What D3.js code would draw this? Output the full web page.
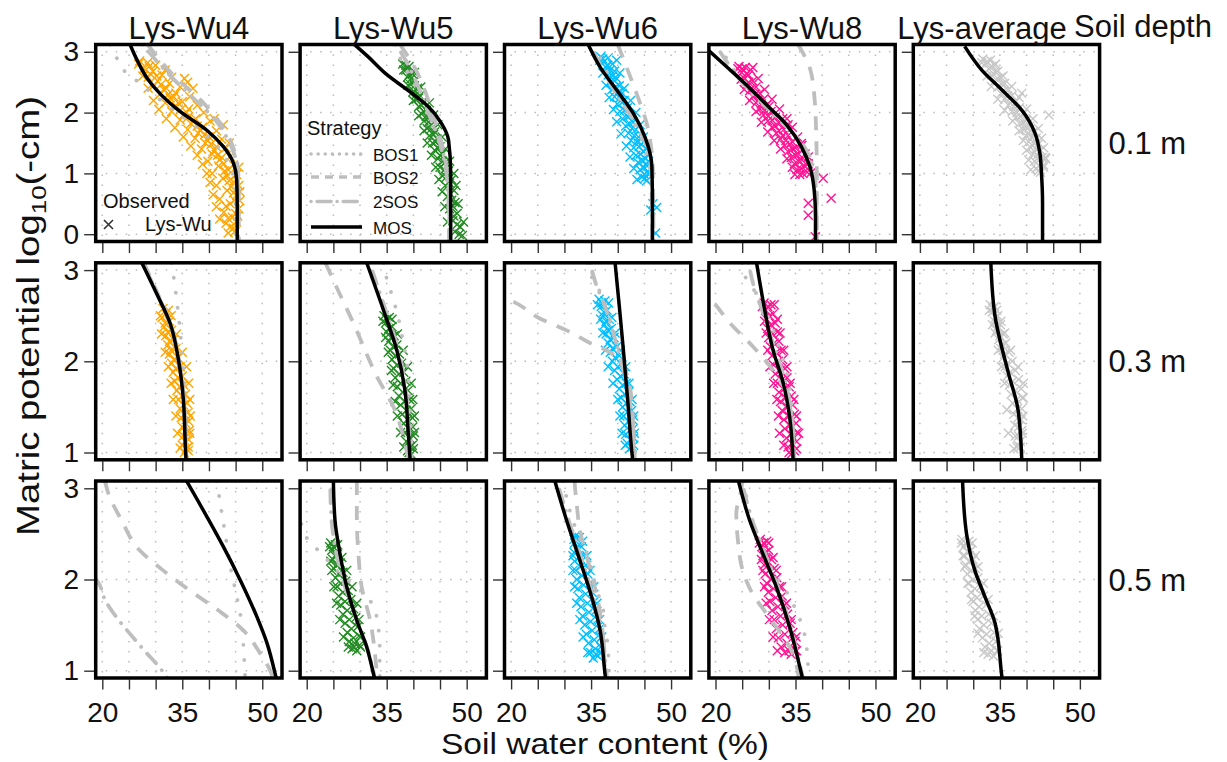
<!DOCTYPE html>
<html>
<head>
<meta charset="utf-8" />
<title>Soil water retention by lysimeter</title>
<script src="https://cdn.jsdelivr.net/npm/d3@7"></script>
<style>
    body { margin: 0; background: #fff; }
    text { font-family: "Liberation Sans", Arial, Helvetica, sans-serif; fill: #111; }
</style>
</head>
<body>
<svg id="CHART" width="1227" height="762"></svg>
<script>
/* ---------------- data ---------------- */
var lysimeters = ["Lys-Wu4", "Lys-Wu5", "Lys-Wu6", "Lys-Wu8", "Lys-average"];
var depths = ["0.1 m", "0.3 m", "0.5 m"];
var strategies = ["BOS1", "BOS2", "2SOS", "MOS"];
var thetaTicks = [20, 25, 30, 35, 40, 45, 50];
var thetaLabels = [20, 35, 50];
var potentialTicks = [[0, 1, 2, 3], [1, 2, 3], [1, 2, 3]];

// observed points [theta %, log10(-h cm)] per depth, one list per lysimeter
var obsDepth10 = [
    [[27.0,2.85],[28.5,2.82],[30.0,2.78],[27.8,2.72],[29.5,2.68],[31.2,2.62],[28.6,2.58],[30.4,2.52],[32.6,2.48],[29.6,2.44],[31.5,2.38],[33.8,2.32],[30.8,2.30],[32.7,2.24],[35.0,2.18],[31.8,2.16],[33.9,2.10],[36.2,2.06],[33.0,2.02],[35.2,1.96],[37.5,1.90],[34.6,1.88],[36.6,1.82],[38.8,1.76],[36.0,1.72],[38.0,1.66],[40.0,1.60],[37.4,1.58],[39.3,1.50],[41.4,1.44],[38.6,1.40],[40.6,1.32],[42.4,1.26],[39.8,1.20],[41.8,1.12],[43.6,1.06],[40.6,1.00],[42.6,0.92],[44.6,0.86],[41.4,0.80],[43.4,0.72],[45.2,0.64],[42.0,0.58],[44.0,0.50],[45.6,0.42],[42.8,0.36],[44.4,0.28],[43.2,0.18],[44.6,0.10],[43.6,0.02],[36.0,2.50],[42.7,1.80],[45.8,0.70],
     [28.8,2.76],[29.0,2.64],[30.2,2.60],[31.0,2.46],[32.0,2.40],[32.4,2.30],[33.4,2.26],[34.2,2.16],[34.6,2.04],[35.8,2.00],[36.0,1.92],[37.2,1.86],[37.8,1.78],[38.4,1.70],[39.2,1.64],[39.8,1.54],[40.4,1.48],[41.0,1.38],[41.6,1.30],[42.0,1.22],[42.8,1.16],[43.0,1.04],[43.4,0.96],[43.8,0.88],[44.2,0.78],[44.6,0.68],[44.8,0.56],[43.2,0.46],[45.0,0.34],[43.6,0.26],[45.2,0.20],[44.0,0.12],[44.8,0.04],[35.4,2.56],[37.0,2.40],[41.0,1.90],[43.8,1.50],[45.6,1.10],
     [26.8,2.80],[27.6,2.60],[28.6,2.40],[29.6,2.20],[30.6,2.05],[32.0,1.90],[33.6,1.75],[35.2,1.60],[36.6,1.45],[37.8,1.30],[38.8,1.15],[39.6,1.00],[40.2,0.85],[40.8,0.65],[41.4,0.45],[42.0,0.25],
     [31.8,2.70],[33.0,2.58],[34.6,2.42],[36.4,2.26],[37.8,2.12],[39.0,2.00],[40.2,1.86],[41.4,1.70],[42.4,1.56],[43.2,1.42],[44.0,1.28],[44.6,1.14],[45.2,0.98],[45.6,0.80],[45.8,0.55],[45.4,0.30]],
    [[38.0,2.80],[39.2,2.76],[38.6,2.70],[39.8,2.64],[38.9,2.58],[40.2,2.52],[39.5,2.46],[40.8,2.40],[39.9,2.34],[41.2,2.28],[40.5,2.22],[41.8,2.16],[41.0,2.10],[42.4,2.04],[41.5,1.98],[42.9,1.92],[42.0,1.86],[43.4,1.80],[42.6,1.74],[44.0,1.68],[43.0,1.62],[44.5,1.56],[43.6,1.50],[45.0,1.44],[44.0,1.38],[45.4,1.32],[44.6,1.24],[46.0,1.18],[45.0,1.10],[46.6,1.04],[45.4,0.96],[47.2,0.90],[46.0,0.80],[47.6,0.72],[46.4,0.62],[47.8,0.52],[46.8,0.42],[48.2,0.34],[47.4,0.22],[48.8,0.12],[47.8,0.04],[49.2,-0.02],
     [38.6,2.78],[39.2,2.62],[39.6,2.56],[40.2,2.44],[40.6,2.30],[41.0,2.24],[41.5,2.12],[42.0,2.02],[42.4,1.94],[42.8,1.84],[43.2,1.72],[43.8,1.64],[44.2,1.52],[44.6,1.42],[45.0,1.30],[45.5,1.20],[45.8,1.06],[46.2,0.94],[46.8,0.84],[47.0,0.66],[47.2,0.56],[47.4,0.46],[47.6,0.30],[48.2,0.16],[48.6,0.00],
     [38.2,2.70],[39.0,2.45],[40.0,2.20],[41.0,1.95],[42.0,1.70],[42.6,1.50],[43.4,1.30],[44.2,1.10],[44.8,0.90],[45.4,0.70],[45.9,0.45],[46.4,0.20],
     [40.2,2.66],[41.4,2.42],[43.0,2.16],[43.8,1.96],[44.6,1.80],[45.4,1.60],[46.0,1.40],[46.8,1.20],[47.6,1.00],[48.0,0.80],[48.4,0.50],[49.4,0.20]],
    [[36.8,2.92],[38.2,2.90],[37.4,2.84],[39.0,2.80],[37.8,2.74],[39.4,2.68],[38.2,2.62],[39.8,2.56],[38.6,2.50],[40.3,2.44],[38.9,2.38],[40.8,2.32],[39.4,2.26],[41.2,2.20],[39.9,2.14],[41.8,2.08],[40.4,2.02],[42.4,1.96],[40.9,1.90],[42.9,1.84],[41.5,1.78],[43.4,1.72],[42.0,1.66],[43.9,1.60],[42.5,1.54],[44.4,1.48],[43.0,1.42],[44.8,1.36],[43.4,1.30],[45.2,1.24],[43.8,1.18],[45.5,1.12],[44.2,1.06],[45.7,1.00],[44.5,0.94],[45.4,0.88],[46.6,0.50],[47.3,0.44],[46.2,0.40],[47.1,0.02],
     [37.2,2.88],[38.0,2.78],[38.6,2.70],[39.0,2.60],[39.4,2.52],[39.6,2.42],[40.1,2.34],[40.4,2.24],[40.8,2.16],[41.3,2.04],[41.8,1.94],[42.2,1.82],[42.7,1.74],[43.1,1.62],[43.6,1.52],[44.0,1.44],[44.2,1.32],[44.6,1.22],[44.9,1.10],[45.0,0.98],[45.1,0.92],
     [36.6,2.86],[37.2,2.65],[37.8,2.45],[38.4,2.25],[39.2,2.05],[39.8,1.85],[40.6,1.65],[41.6,1.45],[42.3,1.27],[43.0,1.08],[43.6,0.90],
     [39.8,2.86],[40.4,2.65],[41.2,2.40],[42.4,2.20],[43.4,2.00],[44.2,1.80],[44.8,1.60],[45.4,1.40],[45.8,1.20],[46.0,1.00]],
    [[24.4,2.76],[25.6,2.74],[26.6,2.70],[24.9,2.66],[26.2,2.62],[25.4,2.56],[27.0,2.52],[25.9,2.46],[27.6,2.42],[26.4,2.36],[28.3,2.32],[27.0,2.26],[29.0,2.22],[27.6,2.16],[29.6,2.12],[28.3,2.06],[30.4,2.02],[29.0,1.96],[31.2,1.92],[29.8,1.86],[32.0,1.82],[30.6,1.76],[32.8,1.72],[31.4,1.66],[33.6,1.62],[32.2,1.56],[34.4,1.52],[33.0,1.46],[35.0,1.42],[33.6,1.36],[35.6,1.32],[34.2,1.26],[36.2,1.22],[34.8,1.16],[36.7,1.12],[35.3,1.06],[37.2,1.02],[35.8,0.98],[33.6,1.80],[36.1,1.49],[37.4,1.27],[40.2,0.92],[41.7,0.59],[37.4,0.51],[37.4,0.31],[38.7,-0.04],
     [25.0,2.72],[25.8,2.64],[26.2,2.50],[26.8,2.40],[27.4,2.30],[28.0,2.20],[28.6,2.14],[29.2,2.04],[29.9,1.94],[30.6,1.88],[31.2,1.78],[31.9,1.70],[32.6,1.62],[33.2,1.54],[33.9,1.48],[34.4,1.40],[35.0,1.30],[35.6,1.20],[36.0,1.08],[36.4,1.00],[30.0,2.10],[32.6,1.90],
     [24.2,2.72],[24.8,2.55],[25.4,2.38],[26.4,2.20],[27.6,2.02],[28.6,1.84],[29.8,1.68],[31.0,1.54],[32.2,1.40],[33.4,1.24],[34.4,1.10],[34.9,0.98],
     [27.0,2.74],[28.0,2.56],[29.2,2.38],[30.6,2.22],[32.0,2.06],[33.4,1.90],[34.4,1.76],[35.4,1.60],[36.2,1.46],[36.8,1.32],[37.4,1.16],[38.0,1.02]],
    [[31.8,2.88],[33.2,2.86],[32.4,2.80],[34.0,2.78],[32.9,2.72],[34.6,2.68],[33.4,2.62],[35.2,2.58],[34.0,2.52],[35.9,2.48],[34.6,2.42],[36.6,2.38],[35.2,2.32],[37.3,2.28],[35.9,2.22],[38.0,2.18],[36.6,2.12],[38.7,2.08],[37.3,2.02],[39.4,1.98],[38.0,1.92],[40.0,1.88],[38.7,1.82],[40.6,1.78],[39.3,1.72],[41.2,1.68],[39.9,1.62],[41.8,1.58],[40.4,1.52],[42.2,1.48],[40.8,1.42],[42.6,1.38],[41.2,1.32],[42.9,1.26],[41.5,1.20],[43.2,1.14],[41.8,1.08],[42.6,1.02],[44.2,1.96],[39.1,2.32],[43.6,1.24],
     [32.6,2.84],[33.4,2.76],[34.2,2.66],[34.6,2.56],[35.4,2.46],[35.8,2.36],[36.4,2.28],[37.0,2.16],[37.6,2.10],[38.2,2.00],[38.8,1.94],[39.4,1.84],[39.9,1.76],[40.4,1.66],[40.9,1.60],[41.4,1.50],[41.8,1.40],[42.0,1.30],[42.3,1.22],[42.4,1.12],[42.2,1.04],
     [31.6,2.82],[32.6,2.60],[33.4,2.43],[34.6,2.22],[35.9,2.04],[37.4,1.86],[38.6,1.70],[39.4,1.54],[40.0,1.38],[40.4,1.22],[40.8,1.06],
     [34.2,2.80],[35.6,2.60],[37.2,2.43],[38.6,2.25],[40.0,2.06],[41.2,1.90],[42.2,1.74],[42.8,1.58],[43.2,1.42],[43.5,1.26],[43.2,1.10]]
];
var obsDepth30 = [
    [[31.4,2.58],[32.4,2.56],[31.2,2.48],[32.6,2.44],[31.6,2.38],[33.0,2.34],[31.9,2.28],[33.4,2.24],[32.3,2.18],[33.8,2.14],[32.6,2.08],[34.2,2.04],[33.0,1.98],[34.6,1.94],[33.3,1.88],[35.0,1.84],[33.6,1.78],[35.3,1.74],[34.0,1.68],[35.6,1.64],[34.3,1.58],[35.9,1.54],[34.6,1.48],[36.1,1.44],[34.8,1.38],[36.2,1.34],[35.0,1.28],[36.3,1.24],[35.2,1.18],[36.2,1.14],[35.0,1.08],[35.8,1.04],[35.4,1.00],
     [31.9,2.52],[31.8,2.42],[32.3,2.32],[32.6,2.22],[32.9,2.12],[33.4,2.02],[33.8,1.92],[34.2,1.82],[34.5,1.72],[34.9,1.62],[35.2,1.52],[35.4,1.42],[35.6,1.32],[35.7,1.22],[35.6,1.12],[36.1,1.06],
     [30.9,2.50],[31.1,2.30],[31.8,2.10],[32.4,1.94],[32.9,1.76],[33.3,1.58],[33.8,1.40],[34.1,1.21],[34.6,1.05],
     [32.9,2.50],[33.9,2.30],[35.0,2.10],[35.8,1.94],[36.2,1.76],[36.4,1.58],[36.5,1.40],[36.4,1.21],[36.1,1.02]],
    [[34.5,2.50],[35.5,2.48],[34.8,2.42],[36.0,2.38],[35.0,2.32],[36.4,2.28],[35.4,2.22],[36.9,2.18],[35.7,2.12],[37.4,2.08],[36.0,2.02],[37.8,1.98],[36.3,1.92],[38.2,1.88],[36.6,1.82],[38.6,1.78],[37.0,1.72],[39.0,1.68],[37.3,1.62],[39.3,1.58],[37.6,1.52],[39.6,1.48],[37.9,1.42],[39.8,1.38],[38.2,1.32],[39.9,1.28],[38.5,1.22],[40.0,1.18],[38.7,1.12],[39.8,1.08],[38.9,1.02],[39.6,0.98],
     [35.0,2.46],[35.4,2.36],[35.8,2.26],[36.2,2.16],[36.6,2.06],[36.9,1.96],[37.3,1.86],[37.6,1.76],[38.0,1.66],[38.4,1.56],[38.7,1.46],[38.9,1.36],[39.1,1.26],[39.3,1.16],[39.4,1.06],[39.2,1.00],
     [34.3,2.44],[34.8,2.26],[35.3,2.10],[35.9,1.90],[36.2,1.74],[36.6,1.56],[37.0,1.40],[37.6,1.22],[38.2,1.06],
     [36.0,2.46],[37.0,2.30],[38.1,2.12],[38.9,1.94],[39.6,1.76],[39.9,1.58],[40.2,1.40],[40.2,1.22],[40.0,1.04]],
    [[36.5,2.68],[37.6,2.66],[36.9,2.60],[38.0,2.56],[37.2,2.50],[38.4,2.46],[37.5,2.40],[38.8,2.36],[37.8,2.30],[39.3,2.26],[38.2,2.20],[39.8,2.16],[38.6,2.10],[40.3,2.06],[39.0,2.00],[40.8,1.96],[39.4,1.90],[41.2,1.86],[39.9,1.80],[41.6,1.76],[40.3,1.70],[42.0,1.66],[40.6,1.60],[42.3,1.56],[40.9,1.50],[42.6,1.46],[41.1,1.40],[42.8,1.36],[41.3,1.30],[42.9,1.26],[41.5,1.20],[43.0,1.16],[41.8,1.10],[42.7,1.06],
     [37.0,2.64],[37.4,2.54],[37.8,2.44],[38.2,2.34],[38.6,2.24],[39.0,2.14],[39.5,2.04],[40.0,1.94],[40.5,1.84],[40.9,1.74],[41.3,1.64],[41.6,1.54],[41.8,1.44],[42.0,1.34],[42.2,1.24],[42.3,1.14],[42.2,1.04],
     [36.2,2.62],[36.8,2.46],[37.2,2.31],[37.7,2.12],[38.2,1.94],[39.1,1.76],[40.0,1.58],[40.4,1.40],[40.8,1.21],[41.4,1.08],
     [38.3,2.64],[38.9,2.48],[39.5,2.31],[40.5,2.12],[41.5,1.94],[42.1,1.76],[42.7,1.58],[43.0,1.40],[43.1,1.21],[43.0,1.08]],
    [[29.1,2.64],[30.4,2.62],[29.4,2.56],[30.8,2.52],[29.6,2.46],[31.2,2.42],[29.8,2.36],[31.6,2.32],[30.0,2.26],[31.9,2.22],[30.3,2.16],[32.3,2.12],[30.6,2.06],[32.6,2.02],[30.9,1.96],[33.0,1.92],[31.2,1.86],[33.4,1.82],[31.6,1.76],[33.8,1.72],[31.9,1.66],[34.2,1.62],[32.2,1.56],[34.5,1.52],[32.5,1.46],[34.8,1.42],[32.8,1.36],[35.1,1.32],[33.0,1.26],[35.3,1.22],[33.3,1.16],[35.2,1.12],[33.6,1.06],[34.8,1.02],[34.2,0.98],
     [29.8,2.60],[30.1,2.50],[30.4,2.40],[30.7,2.30],[31.0,2.20],[31.4,2.10],[31.8,2.00],[32.1,1.90],[32.5,1.80],[32.9,1.70],[33.2,1.60],[33.5,1.50],[33.8,1.40],[34.0,1.30],[34.2,1.20],[34.3,1.10],[33.8,1.00],
     [28.8,2.60],[29.2,2.44],[29.5,2.31],[29.8,2.12],[30.2,1.94],[30.9,1.76],[31.5,1.58],[31.8,1.40],[32.0,1.21],[32.8,1.08],
     [31.0,2.62],[31.6,2.46],[32.1,2.31],[32.8,2.12],[33.4,1.94],[34.0,1.76],[34.7,1.58],[35.2,1.40],[35.6,1.21],[35.2,1.04]],
    [[33.2,2.62],[34.0,2.60],[33.6,2.54],[34.6,2.50],[34.0,2.44],[35.1,2.40],[34.4,2.34],[35.6,2.30],[34.8,2.24],[36.1,2.20],[35.2,2.14],[36.7,2.10],[35.6,2.04],[37.3,2.00],[36.0,1.94],[37.9,1.90],[36.4,1.84],[38.5,1.80],[36.8,1.74],[39.0,1.70],[37.1,1.64],[39.2,1.60],[37.4,1.54],[39.1,1.48],[37.6,1.42],[39.0,1.36],[37.8,1.30],[39.1,1.24],[37.9,1.18],[38.8,1.12],[38.2,1.06],[37.6,1.04],
     [33.7,2.58],[34.2,2.48],[34.6,2.38],[35.0,2.28],[35.4,2.18],[35.9,2.08],[36.4,1.98],[36.9,1.88],[37.4,1.78],[37.9,1.68],[38.2,1.58],[38.3,1.48],[38.4,1.38],[38.5,1.28],[38.5,1.18],[38.4,1.08],
     [33.0,2.56],[33.6,2.40],[34.1,2.31],[34.7,2.12],[35.3,1.94],[35.9,1.76],[36.3,1.47],[36.6,1.21],
     [34.4,2.56],[35.2,2.44],[35.9,2.31],[37.0,2.12],[38.4,1.94],[39.4,1.76],[39.4,1.60],[39.3,1.40],[39.2,1.21],[38.8,1.06]]
];
var obsDepth50 = [
    [],
    [[24.5,2.40],[25.4,2.38],[24.7,2.32],[25.8,2.28],[24.9,2.22],[26.3,2.18],[25.1,2.12],[26.8,2.08],[25.4,2.02],[27.3,1.98],[25.7,1.92],[27.8,1.88],[26.0,1.82],[28.3,1.78],[26.4,1.72],[28.8,1.68],[26.8,1.62],[29.2,1.58],[27.2,1.52],[29.5,1.48],[27.6,1.42],[29.8,1.38],[28.0,1.32],[29.9,1.28],[28.5,1.24],[29.4,1.22],
     [25.0,2.36],[25.3,2.26],[25.6,2.16],[26.0,2.06],[26.4,1.96],[26.8,1.86],[27.2,1.76],[27.6,1.66],[28.0,1.56],[28.4,1.46],[28.8,1.36],[29.0,1.30],[28.9,1.26],
     [24.3,2.36],[24.5,2.20],[24.7,2.10],[25.1,1.92],[25.6,1.74],[26.2,1.56],[26.9,1.37],[27.8,1.26],
     [25.8,2.38],[26.6,2.24],[27.5,2.10],[28.5,1.92],[29.4,1.74],[29.8,1.56],[30.1,1.37],[30.1,1.26]],
    [[32.1,2.48],[32.8,2.46],[31.9,2.40],[33.2,2.36],[31.8,2.30],[33.6,2.26],[31.9,2.20],[34.0,2.16],[32.1,2.10],[34.4,2.06],[32.3,2.00],[34.8,1.96],[32.5,1.90],[35.2,1.86],[32.8,1.80],[35.6,1.76],[33.1,1.70],[35.9,1.66],[33.4,1.60],[36.2,1.56],[33.8,1.50],[36.6,1.46],[34.1,1.40],[36.8,1.36],[34.5,1.30],[36.8,1.26],[34.9,1.20],[36.3,1.16],[35.4,1.14],
     [32.4,2.44],[32.5,2.34],[32.8,2.24],[33.0,2.14],[33.3,2.04],[33.6,1.94],[34.0,1.84],[34.3,1.74],[34.6,1.64],[34.9,1.54],[35.2,1.44],[35.6,1.34],[35.8,1.24],[35.9,1.18],
     [31.8,2.44],[31.6,2.26],[31.6,2.10],[31.9,1.92],[32.3,1.74],[32.9,1.56],[33.5,1.37],[34.4,1.20],
     [33.4,2.42],[34.2,2.26],[34.8,2.10],[35.5,1.92],[36.1,1.74],[36.6,1.56],[37.0,1.37],[36.8,1.20]],
    [[28.4,2.44],[29.6,2.42],[28.7,2.36],[30.0,2.32],[28.9,2.26],[30.5,2.22],[29.1,2.16],[31.0,2.12],[29.3,2.06],[31.5,2.02],[29.6,1.96],[32.0,1.92],[29.9,1.86],[32.5,1.82],[30.2,1.76],[33.0,1.72],[30.6,1.66],[33.5,1.62],[31.0,1.56],[34.0,1.52],[31.4,1.46],[34.5,1.42],[31.8,1.36],[34.9,1.32],[32.3,1.26],[35.0,1.22],[33.0,1.20],[34.2,1.18],
     [29.0,2.40],[29.4,2.30],[29.8,2.20],[30.1,2.10],[30.5,2.00],[30.9,1.90],[31.3,1.80],[31.7,1.70],[32.2,1.60],[32.6,1.50],[33.0,1.40],[33.4,1.30],[33.8,1.22],
     [28.2,2.40],[28.6,2.22],[28.9,2.10],[29.2,1.92],[29.5,1.74],[30.1,1.56],[30.8,1.37],[31.6,1.22],
     [30.0,2.40],[30.8,2.24],[31.4,2.10],[32.4,1.92],[33.3,1.74],[34.2,1.56],[35.1,1.37],[35.2,1.22]],
    [[27.9,2.44],[29.2,2.42],[28.2,2.36],[29.6,2.32],[28.4,2.26],[30.0,2.22],[28.6,2.16],[30.4,2.12],[28.9,2.06],[30.9,2.02],[29.2,1.96],[31.4,1.92],[29.6,1.86],[31.9,1.82],[30.0,1.76],[32.4,1.72],[30.4,1.66],[32.9,1.62],[30.8,1.56],[33.4,1.52],[31.2,1.46],[33.9,1.42],[31.7,1.36],[34.3,1.32],[32.2,1.26],[34.5,1.22],[32.8,1.18],[33.8,1.16],
     [28.6,2.40],[29.0,2.30],[29.2,2.20],[29.6,2.10],[29.9,2.00],[30.3,1.90],[30.7,1.80],[31.1,1.70],[31.6,1.60],[32.0,1.50],[32.5,1.40],[33.0,1.30],[33.4,1.22],
     [27.8,2.40],[28.1,2.26],[28.4,2.14],[29.0,1.96],[29.7,1.78],[30.3,1.60],[30.9,1.41],[32.0,1.20],
     [29.8,2.40],[30.4,2.26],[30.9,2.14],[31.9,1.96],[32.8,1.78],[33.8,1.60],[34.7,1.41],[34.6,1.22]]
];

// fitted retention curves [theta %, log10(-h cm)], rows = depth, cols = lysimeter (null = not shown)
var mosCurves = [
    [[[25.2,3.12],[26.6,2.85],[28.6,2.54],[34.25,2.04],[39.6,1.71],[42.7,1.44],[44.6,1.17],[45.2,0.89],[45.3,0.5],[45.3,-0.12]],
     [[28.7,3.14],[31.5,2.92],[34.7,2.65],[39.7,2.32],[42.8,2.1],[45.3,1.82],[46.6,1.55],[47.0,1.0],[47.0,-0.12]],
     [[34.5,3.11],[36.6,2.76],[39.8,2.37],[42.9,1.99],[45.1,1.6],[46.4,1.11],[46.5,0.5],[46.5,-0.12]],
     [[17.5,3.12],[22.4,2.73],[26.1,2.43],[29.9,2.1],[33.6,1.77],[36.1,1.44],[37.7,1.11],[38.5,0.73],[38.75,0.3],[38.75,-0.12]],
     [[28.4,3.09],[31.6,2.7],[35.3,2.38],[39.1,2.04],[41.6,1.66],[42.5,1.33],[42.8,1.0],[43.0,0.5],[43.0,-0.12]]],
    [[[27.4,3.08],[30.2,2.74],[32.7,2.42],[34.3,2.01],[35.2,1.58],[35.6,1.03],[35.7,0.92]],
     [[31.25,3.08],[34.4,2.56],[36.9,2.12],[38.4,1.69],[39.05,1.21],[39.4,0.92]],
     [[39.5,3.08],[40.3,2.6],[41.06,2.12],[41.9,1.55],[42.6,1.03],[42.8,0.92]],
     [[27.7,3.08],[28.9,2.67],[30.8,2.12],[32.7,1.76],[33.9,1.39],[34.55,0.92]],
     [[33.3,3.08],[34.1,2.49],[36.6,1.87],[38.4,1.47],[39.1,0.92]]],
    [[[35.8,3.08],[39.6,2.69],[42.7,2.36],[45.9,1.99],[49.0,1.59],[50.9,1.3],[52.4,0.97],[52.6,0.92]],
     [[25.0,3.08],[25.3,2.65],[26.25,2.28],[27.5,1.92],[29.4,1.55],[31.25,1.26],[32.5,0.97],[32.7,0.92]],
     [[28.2,3.08],[30.4,2.65],[32.9,2.21],[35.1,1.81],[36.7,1.44],[37.6,0.97],[37.7,0.92]],
     [[24.3,3.08],[26.4,2.65],[28.9,2.28],[31.4,1.92],[33.9,1.48],[36.1,0.97],[36.3,0.92]],
     [[28.0,3.08],[28.75,2.5],[30.3,2.1],[32.2,1.81],[34.1,1.52],[35.3,0.97],[35.4,0.92]]]
];
var bos1Curves = [
    [[[21.5,3.12],[22.7,2.9],[24.0,2.7],[26.8,2.5],[31,2.2],[34,2.0],[38.5,1.7],[42,1.4],[44,1.1],[44.8,0.8],[45,0.4],[45,-0.12]],
     [[36.5,3.12],[38,2.8],[40,2.5],[41.5,2.2],[43,1.9],[44.5,1.6],[46,1.2],[46.8,0.8],[47.2,-0.12]],
     [[35.5,3.12],[37.8,2.7],[40,2.3],[42.5,1.9],[44.8,1.5],[46,1.1],[46.5,0.6],[46.6,-0.12]],
     [[20.5,3.12],[23.5,2.7],[27,2.3],[30.5,2.0],[34,1.7],[36.8,1.4],[38.2,1.1],[38.8,0.7],[39,-0.12]],
     null],
    [[[33.0,3.08],[33.3,2.96],[34.1,2.6],[34.7,2.27],[35.2,1.94],[35.5,1.58],[35.7,1.1],[35.7,0.92]],
     [[34.4,3.08],[34.9,2.93],[35.8,2.76],[36.75,2.57],[37.4,2.42],[38.0,2.24],[38.8,1.97],[39.3,1.6],[39.6,1.2],[39.7,0.92]],
     [[34.3,3.08],[35.3,2.9],[36.9,2.74],[38,2.57],[39.3,2.3],[40.6,2.0],[41.8,1.7],[42.7,1.4],[43.2,1.1],[43.3,0.92]],
     [[25.0,3.08],[25.8,2.9],[27.7,2.74],[29.6,2.52],[32.1,2.12],[33.9,1.72],[34.6,1.21],[34.8,0.92]],
     null],
    [[[41.5,3.08],[42.1,2.84],[42.6,2.66],[43.1,2.48],[44.0,2.15],[45.3,1.79],[46.2,1.5],[46.5,1.24],[46.8,0.92]],
     [[17.5,2.75],[19.06,2.6],[20.3,2.43],[22.5,2.3],[26.5,2.05],[31.25,1.82],[32.8,1.66],[33.4,1.48],[33.7,1.3],[33.7,0.92]],
     [[29.8,3.08],[30.8,2.8],[32.5,2.5],[34.2,2.28],[36.1,1.88],[37.3,1.66],[37.6,1.48],[38.1,1.3],[38.3,1.12],[38.4,0.92]],
     [[25.5,3.08],[26.5,2.7],[28.5,2.4],[31.1,2.05],[33.9,1.81],[35.1,1.66],[36.35,1.48],[37,1.3],[37.3,1.12],[37.4,0.92]],
     null]
];
var bos2Curves = [
    [[[28.5,3.12],[33.5,2.6],[38.5,2.2],[41.5,1.9],[43.7,1.6],[45,1.3],[45.5,1.0],[45.6,0.6],[45.6,-0.12]],
     [[37.5,3.12],[40.5,2.7],[42,2.4],[43.2,2.1],[44.3,1.8],[45.3,1.5],[46.2,1.1],[46.7,0.6],[46.8,-0.12]],
     [[40,3.12],[42.3,2.6],[44,2.2],[45.5,1.8],[46.3,1.4],[46.6,1.0],[46.7,-0.12]],
     [[35.5,3.12],[37.8,2.7],[38.6,2.2],[38.9,1.6],[39,1.0],[39,-0.12]],
     null],
    [[[27.8,3.08],[30.4,2.74],[32.9,2.4],[34.4,2.0],[35.3,1.58],[35.7,1.03],[35.8,0.92]],
     [[23.5,3.08],[25.3,2.85],[28.75,2.42],[33.1,1.84],[36.5,1.47],[38.1,1.18],[39,0.96],[39.2,0.92]],
     [[16,2.75],[19.8,2.67],[25.4,2.47],[31.1,2.32],[34.8,2.2],[37.9,2.12],[41.1,1.94],[42.6,1.58],[42.9,1.21],[42.9,0.92]],
     [[16.5,2.82],[19.25,2.67],[22.7,2.42],[27.05,2.16],[30.8,1.9],[33.3,1.65],[34.4,1.3],[34.7,0.92]],
     null],
    [[[20.5,3.08],[21.1,2.95],[23.6,2.65],[27.0,2.32],[31.4,2.1],[36.4,1.88],[41.8,1.66],[46.5,1.44],[49.6,1.19],[51.5,1.0],[52,0.92]],
     [[29.4,3.08],[29.4,2.65],[29.7,2.28],[30.3,1.92],[31.9,1.55],[32.8,1.19],[33.1,1.0],[33.2,0.92]],
     [[31.9,3.08],[32.0,3.0],[32.3,2.83],[32.9,2.54],[34.2,2.25],[35.4,1.99],[36.5,1.7],[37.2,1.4],[37.6,1.0],[37.7,0.92]],
     [[25.0,3.08],[24.9,3.01],[23.9,2.72],[24.2,2.43],[25.1,2.1],[26.9,1.85],[29.5,1.63],[31.9,1.44],[33.9,1.26],[35.1,1.08],[35.6,0.92]],
     null]
];
var twoSosCurves = [
    [[[27.5,3.12],[32.8,2.6],[37.5,2.2],[41,1.9],[43.3,1.6],[44.8,1.3],[45.4,1.0],[45.5,-0.12]],
     [[36.8,3.12],[39.5,2.7],[41.5,2.3],[42.8,2.0],[44.6,1.6],[45.8,1.2],[46.5,0.7],[46.7,-0.12]],
     [[34.8,3.12],[37.2,2.7],[39.8,2.3],[42.8,1.9],[45.2,1.5],[46.2,1.1],[46.5,-0.12]],
     [[20,3.12],[22.8,2.75],[26,2.4],[29.5,2.1],[33,1.8],[36.2,1.5],[38,1.2],[38.8,0.8],[39,-0.12]],
     null],
    [[[27.6,3.08],[30.3,2.74],[32.8,2.41],[34.4,2.0],[35.3,1.58],[35.7,1.03],[35.8,0.92]],
     [[31.8,3.08],[34.8,2.56],[37.2,2.12],[38.6,1.69],[39.2,1.21],[39.5,0.92]],
     [[34.8,3.08],[35.9,2.85],[37.6,2.6],[39.2,2.3],[40.6,2.0],[42.2,1.6],[43,1.2],[43.2,0.92]],
     [[26.2,3.08],[27.2,2.82],[28.5,2.6],[30.2,2.3],[32.2,1.95],[33.8,1.6],[34.6,1.2],[34.8,0.92]],
     null],
    [[[17.5,2.1],[19.5,1.94],[20.4,1.79],[22.6,1.59],[25.4,1.39],[27.9,1.22],[31.1,1.01],[32.2,0.92]],
     [[24.4,3.08],[24.6,2.7],[25.5,2.3],[27,1.95],[29.2,1.58],[31.3,1.26],[32.6,0.97],[32.8,0.92]],
     [[28.6,3.08],[30.8,2.65],[33.3,2.21],[35.4,1.81],[37.0,1.44],[37.9,0.97],[38.0,0.92]],
     [[24.9,3.08],[26.9,2.65],[29.3,2.28],[31.7,1.92],[34.1,1.48],[36.2,0.97],[36.4,0.92]],
     null]
];

/* ---------------- layout & style ---------------- */
var obsColors = ["#FFA500", "#228B22", "#00BFFF", "#FF1493", "#C8C8C8"];
var lineStyle = {
    "BOS1": { stroke: "#BEBEBE", dash: "0.1,15", cap: "round" },
    "BOS2": { stroke: "#BEBEBE", dash: "14,11", cap: "butt" },
    "2SOS": { stroke: "#BEBEBE", dash: "0.1,9,13,9", cap: "round" },
    "MOS":  { stroke: "#000000", dash: null, cap: "butt" }
};
var curvesBy = { "BOS1": bos1Curves, "BOS2": bos2Curves, "2SOS": twoSosCurves, "MOS": mosCurves };
var observed = [obsDepth10, obsDepth30, obsDepth50];

var colX0 = 95.7, colStep = 204.4, panelW = 186.3, panelH = 197;
var rowTop = [44.5, 262.8, 481];
var xDomain = [18.76, 53.7];
var yDomains = [[-0.12, 3.12], [0.92, 3.08], [0.92, 3.08]];

var svg = d3.select("#CHART");
var x = d3.scaleLinear().domain(xDomain).range([0, panelW]);
var cross = "M-4.5,-4.5L4.5,4.5M-4.5,4.5L4.5,-4.5";

depths.forEach(function (depth, r) {
    var y = d3.scaleLinear().domain(yDomains[r]).range([panelH, 0]);
    var line = d3.line()
        .x(function (d) { return x(d[0]); })
        .y(function (d) { return y(d[1]); })
        .curve(d3.curveMonotoneY);

    lysimeters.forEach(function (lys, c) {
        var g = svg.append("g")
            .attr("transform", "translate(" + (colX0 + c * colStep) + "," + rowTop[r] + ")");
        var clipId = "clip-" + r + "-" + c;
        g.append("clipPath").attr("id", clipId)
            .append("rect").attr("width", panelW).attr("height", panelH);

        // ticks
        var xAxis = g.append("g").attr("transform", "translate(0," + (panelH + 1.5) + ")")
            .call(d3.axisBottom(x).tickValues(thetaTicks).tickSize(10).tickPadding(13)
                .tickFormat(function (d) { return (r === 2 && thetaLabels.indexOf(d) >= 0) ? d : ""; }));
        var yAxis = g.append("g").attr("transform", "translate(-1.5,0)")
            .call(d3.axisLeft(y).tickValues(potentialTicks[r]).tickSize(10).tickPadding(5)
                .tickFormat(function (d) { return c === 0 ? d : ""; }));
        [xAxis, yAxis].forEach(function (a) {
            a.select(".domain").remove();
            a.selectAll(".tick line").attr("stroke", "#333").attr("stroke-width", 1.4);
            a.selectAll(".tick text").attr("fill", "#111").style("font-size", "28px")
                .style("font-family", "'Liberation Sans', Arial, sans-serif");
        });

        var inner = g.append("g").attr("clip-path", "url(#" + clipId + ")");

        // dotted grid
        inner.selectAll("line.gx").data(thetaTicks).enter().append("line")
            .attr("x1", function (d) { return x(d); }).attr("x2", function (d) { return x(d); })
            .attr("y1", 0).attr("y2", panelH)
            .attr("stroke", "#BBBBBB").attr("stroke-width", 1.5).attr("stroke-dasharray", "1.5,8.5");
        inner.selectAll("line.gy").data(potentialTicks[r]).enter().append("line")
            .attr("y1", function (d) { return y(d); }).attr("y2", function (d) { return y(d); })
            .attr("x1", 0).attr("x2", panelW)
            .attr("stroke", "#BBBBBB").attr("stroke-width", 1.5).attr("stroke-dasharray", "1.5,8.5");

        // observed
        inner.selectAll("path.obs").data(observed[r][c]).enter().append("path")
            .attr("d", cross)
            .attr("transform", function (d) { return "translate(" + x(d[0]) + "," + y(d[1]) + ")"; })
            .attr("fill", "none").attr("stroke", obsColors[c]).attr("stroke-width", 1.4);

        // curves
        strategies.forEach(function (s) {
            var pts = curvesBy[s][r][c];
            if (!pts) return;
            var st = lineStyle[s];
            inner.append("path").datum(pts)
                .attr("d", line)
                .attr("fill", "none")
                .attr("stroke", st.stroke)
                .attr("stroke-width", s === "MOS" ? 3.5 : 3.8)
                .attr("stroke-linecap", st.cap)
                .attr("stroke-dasharray", st.dash);
        });

        // frame
        g.append("rect").attr("width", panelW).attr("height", panelH)
            .attr("fill", "none").attr("stroke", "#000").attr("stroke-width", 3.5);

        if (r === 0) {
            g.append("text").attr("x", c === 4 ? 886 - colX0 - c * colStep + 96 : panelW / 2)
                .attr("y", -6).attr("text-anchor", "middle")
                .style("font-size", "31px").text(lys);
        }
        if (c === 4) {
            g.append("text").attr("x", panelW + 9).attr("y", panelH / 2 + 11)
                .style("font-size", "31px").text(depth);
        }
    });
});

svg.append("text").attr("x", 1143).attr("y", 37).attr("text-anchor", "middle")
    .style("font-size", "31px").text("Soil depth");

// axis titles
svg.append("text").attr("x", 605).attr("y", 754).attr("text-anchor", "middle")
    .attr("textLength", 328).attr("lengthAdjust", "spacingAndGlyphs")
    .style("font-size", "30px").text("Soil water content (%)");
var yt = svg.append("text").attr("transform", "translate(39,316) rotate(-90)")
    .attr("text-anchor", "middle").attr("textLength", 440).attr("lengthAdjust", "spacingAndGlyphs")
    .style("font-size", "31px");
yt.append("tspan").text("Matric potential log");
yt.append("tspan").attr("dy", 7).style("font-size", "21px").text("10");
yt.append("tspan").attr("dy", -7).text("(-cm)");

// legend: observed (panel Wu4, 0.1 m)
var lg1 = svg.append("g");
lg1.append("text").attr("x", 103).attr("y", 208).style("font-size", "20px").text("Observed");
lg1.append("path").attr("d", cross).attr("transform", "translate(108.5,224.5)")
    .attr("fill", "none").attr("stroke", "#333").attr("stroke-width", 1.6);
lg1.append("text").attr("x", 145).attr("y", 231).style("font-size", "20px").text("Lys-Wu");

// legend: strategy (panel Wu5, 0.1 m)
var lg2 = svg.append("g");
lg2.append("text").attr("x", 307).attr("y", 135).style("font-size", "20px").text("Strategy");
var legendY = [154, 177, 201.5, 227];
strategies.forEach(function (s, i) {
    var st = lineStyle[s];
    lg2.append("line").attr("x1", 311).attr("x2", 362).attr("y1", legendY[i]).attr("y2", legendY[i])
        .attr("stroke", st.stroke).attr("stroke-width", 3.5)
        .attr("stroke-linecap", st.cap)
        .attr("stroke-dasharray", s === "BOS1" ? "0.1,7" : (s === "BOS2" ? "8,6" : (s === "2SOS" ? "0.1,6,14,6" : null)));
    lg2.append("text").attr("x", 373).attr("y", legendY[i] + 6.5).style("font-size", "17px").text(s);
});
</script>
</body>
</html>
